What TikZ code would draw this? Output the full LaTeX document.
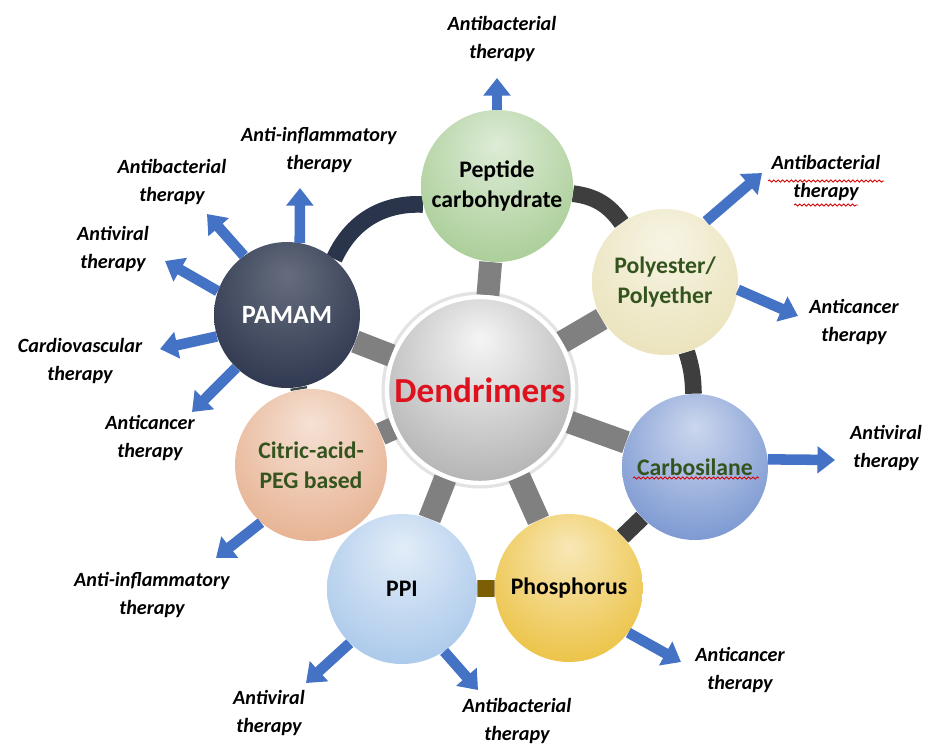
\documentclass[tikz,border=0pt]{standalone}
\usepackage{fontspec}
\setmainfont{Carlito}
\usetikzlibrary{arrows.meta,backgrounds,decorations.pathmorphing}
\definecolor{arrblue}{RGB}{68,114,196}
\definecolor{navyball}{RGB}{36,46,70}
\definecolor{pamamrim}{RGB}{42,52,74}
\definecolor{darkgrn}{RGB}{52,84,30}
\definecolor{spokegray}{RGB}{128,128,128}
\definecolor{rimgray}{RGB}{62,62,62}
\definecolor{rimolive}{RGB}{124,94,4}
\definecolor{rimslate}{RGB}{58,70,72}
\definecolor{peptgreen}{RGB}{160,200,140}
\definecolor{polycream}{RGB}{232,224,180}
\definecolor{carbblue}{RGB}{108,140,204}
\definecolor{phosgold}{RGB}{234,188,48}
\definecolor{ppiblue}{RGB}{160,194,232}
\definecolor{citpeach}{RGB}{228,170,134}
\definecolor{dendred}{RGB}{222,18,30}
\colorlet{glow}{gray}
\colorlet{glowtop}{white}
\pgfdeclareradialshading[glow,glowtop]{glowball}{\pgfqpoint{0bp}{14bp}}{%
  color(0bp)=(glowtop);
  color(24bp)=(glow!60!glowtop);
  color(40bp)=(glow);
  color(56bp)=(glow!85!black);
  color(70bp)=(glow!70!black)}
\begin{document}
\begin{tikzpicture}[x=0.02cm,y=-0.02cm,
  gball/.code 2 args={\colorlet{glow}{#1}\colorlet{glowtop}{#2}\tikzset{shading=glowball}},
  sphere/.style={circle,inner sep=0pt,minimum size=3cm,align=center,font=\fontsize{13.5}{17}\selectfont\bfseries},
  therapy/.style={font=\fontsize{11.5}{15.5}\selectfont\bfseries\itshape,align=center},
  outarr/.style={draw=arrblue,line width=6pt,-{Triangle[length=10pt,width=15pt]}},
  spoke/.style={draw=spokegray,line width=13pt},
  rim/.style={line width=9.5pt},
  squiggle/.style={draw=red!85!black,line width=0.5pt,decorate,decoration={snake,amplitude=0.6pt,segment length=2.5pt}}]
\useasboundingbox (0,0) rectangle (929,745);
\path node (dend) at (480,390) [sphere,minimum size=3.72cm,gball={gray!70}{gray!8},draw=white,line width=2.5pt,font=\fontsize{20}{24}\selectfont\bfseries,text=dendred] {Dendrimers}
      node (pept) at (497,186) [sphere,minimum size=3.04cm,gball={peptgreen}{peptgreen!35!white}] {Peptide\\carbohydrate}
      node (pamam) at (287,315) [sphere,minimum size=2.92cm,gball={navyball}{navyball!70!white},text=white,font=\fontsize{15}{18}\selectfont\bfseries] {PAMAM}
      node (poly) at (665,282) [sphere,minimum size=2.92cm,gball={polycream}{polycream!35!white},text=darkgrn] {Polyester/\\Polyether}
      node (carb) at (695,467) [sphere,minimum size=2.92cm,gball={carbblue}{carbblue!35!white},text=darkgrn] {Carbosilane}
      node (phos) at (569,588) [sphere,minimum size=2.96cm,gball={phosgold}{phosgold!35!white}] {Phosphorus}
      node (ppi) at (402,589) [sphere,minimum size=3cm,gball={ppiblue}{ppiblue!30!white}] {PPI}
      node (cit) at (311,465) [sphere,minimum size=3.04cm,gball={citpeach}{citpeach!35!white},text=darkgrn] {Citric-acid-\\PEG based};
\path node (t1) at (502,39) [therapy] {Antibacterial\\therapy}
      node (t2) at (319,150) [therapy] {Anti-inflammatory\\therapy}
      node (t3) at (172,182) [therapy] {Antibacterial\\therapy}
      node (t4) at (113,249) [therapy] {Antiviral\\therapy}
      node (t5) at (80,361) [therapy] {Cardiovascular\\therapy}
      node (t6) at (150,438) [therapy] {Anticancer\\therapy}
      node (t7) at (826,178) [therapy] {Antibacterial\\therapy}
      node (t8) at (854,322) [therapy] {Anticancer\\therapy}
      node (t9) at (886,448) [therapy] {Antiviral\\therapy}
      node (t10) at (740,670) [therapy] {Anticancer\\therapy}
      node (t11) at (269,713) [therapy] {Antiviral\\therapy}
      node (t12) at (517,721) [therapy] {Antibacterial\\therapy}
      node (t13) at (152,595) [therapy] {Anti-inflammatory\\therapy};
\path coordinate (a1) at (497,78)
      coordinate (a2) at (300,188)
      coordinate (a3) at (207,214)
      coordinate (a4) at (165,261)
      coordinate (a5) at (160,349)
      coordinate (a6) at (192,412)
      coordinate (a7) at (762,173)
      coordinate (a8) at (798,316)
      coordinate (a9) at (835,460)
      coordinate (a10) at (681,662)
      coordinate (a11) at (306,683)
      coordinate (a12) at (478,690)
      coordinate (a13) at (216,558);
\begin{pgfonlayer}{background}
\fill [gray!22] (dend.center) circle (1.97cm);
\draw [spoke] (dend) -- (pept);
\draw [spoke] (dend) -- (pamam);
\draw [spoke] (dend) -- (poly);
\draw [spoke] (dend) -- (carb);
\draw [spoke] (dend) -- (phos);
\draw [spoke] (dend) -- (ppi);
\draw [spoke] (dend) -- (cit);
\draw [rim,draw=pamamrim] (pamam.50) to[bend left=34] (pept.194);
\draw [rim,draw=rimgray] (pept) to[bend left=24] (poly);
\draw [rim,draw=rimgray] (poly) to[bend left=8] (carb);
\draw [rim,draw=rimgray] (carb) -- (phos);
\draw [rim,draw=rimolive] (phos) -- (ppi);
\draw [rim,draw=rimslate] (cit) -- (pamam);
\end{pgfonlayer}
\draw [outarr] (pept.90) -- (a1);
\draw [outarr] (pamam.80) -- (a2);
\draw [outarr] (pamam.126) -- (a3);
\draw [outarr] (pamam.161) -- (a4);
\draw [outarr] (pamam.197) -- (a5);
\draw [outarr] (pamam.226) -- (a6);
\draw [outarr] (poly.56) -- (a7);
\draw [outarr] (poly.-6) -- (a8);
\draw [outarr] (carb.6) -- (a9);
\draw [outarr] (phos.-37) -- (a10);
\draw [outarr] (ppi.226) -- (a11);
\draw [outarr] (ppi.-56) -- (a12);
\draw [outarr] (cit.229) -- (a13);
\draw [squiggle] (633,478) -- (759,478);
\draw [squiggle] (768,181) -- (884,181);
\draw [squiggle] (794,205) -- (858,205);
\end{tikzpicture}
\end{document}
